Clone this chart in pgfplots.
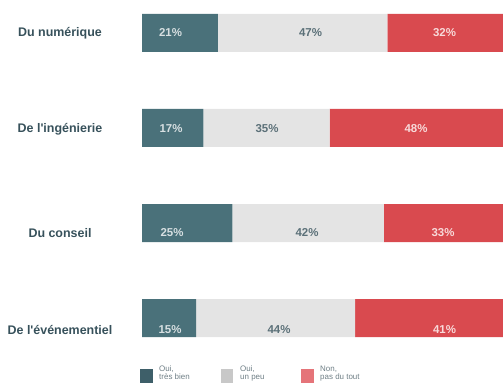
\documentclass[border=0pt]{standalone}
\usepackage{fontspec}
\setmainfont{Liberation Sans}
\usepackage{pgfplots}
\pgfplotsset{compat=1.18}
\definecolor{cdark}{HTML}{4A717A}
\definecolor{cgrey}{HTML}{E4E4E4}
\definecolor{cred}{HTML}{D94A4F}
\definecolor{clabel}{HTML}{37515B}
\definecolor{tdark}{HTML}{D8E0E2}
\definecolor{tgrey}{HTML}{5B7078}
\definecolor{tred}{HTML}{F8DADA}
\definecolor{lgtext}{HTML}{6F7F86}
\definecolor{ldark}{HTML}{3E5F69}
\definecolor{lgrey}{HTML}{C8C8C8}
\definecolor{lred}{HTML}{E57479}
\tikzset{
  catl/.style={font=\bfseries\fontsize{12.5}{14}\selectfont, text=clabel},
  pct/.style={font=\bfseries\fontsize{11.5}{13}\selectfont},
  lgt/.style={font=\fontsize{8}{8.5}\selectfont, text=lgtext, anchor=north west, align=left, inner sep=0pt}
}
\begin{document}
\begin{tikzpicture}[x=1bp,y=1bp]
\useasboundingbox (0,0) rectangle (503,383);
\begin{axis}[at={(142bp,0bp)}, anchor=south west, scale only axis,
  width=361bp, height=383bp, xmin=0, xmax=100, ymin=0, ymax=383,
  xbar stacked, bar width=38, hide axis, clip=false]
\addplot[fill=cdark, draw=none] coordinates {(21,350) (17,255) (25,160) (15,65)};
\addplot[fill=cgrey, draw=none] coordinates {(47,350) (35,255) (42,160) (44,65)};
\addplot[fill=cred, draw=none] coordinates {(32,350) (48,255) (33,160) (41,65)};
\end{axis}
% category labels
\node[catl] at (60,350) {Du numérique};
\node[catl] at (60,254) {De l\textquotesingle ingénierie};
\node[catl] at (60,150) {Du conseil};
\node[catl] at (60,53) {De l\textquotesingle événementiel};
% percentages
\node[pct,text=tdark] at (170.5,350) {21\%};
\node[pct,text=tgrey] at (310.5,350) {47\%};
\node[pct,text=tred]  at (444.5,350) {32\%};
\node[pct,text=tdark] at (171,254) {17\%};
\node[pct,text=tgrey] at (267,254) {35\%};
\node[pct,text=tred]  at (416,254) {48\%};
\node[pct,text=tdark] at (172,150) {25\%};
\node[pct,text=tgrey] at (307,150) {42\%};
\node[pct,text=tred]  at (443,150) {33\%};
\node[pct,text=tdark] at (170,53) {15\%};
\node[pct,text=tgrey] at (279,53) {44\%};
\node[pct,text=tred]  at (444.5,53) {41\%};
% legend
\fill[ldark] (140,0) rectangle (153,14);
\fill[lgrey] (221,0) rectangle (233,14);
\fill[lred] (301,0) rectangle (314,14);
\node[lgt] at (159,17.5) {Oui,\\très bien};
\node[lgt] at (240,17.5) {Oui,\\un peu};
\node[lgt] at (320,17.5) {Non,\\pas du tout};
\end{tikzpicture}
\end{document}
